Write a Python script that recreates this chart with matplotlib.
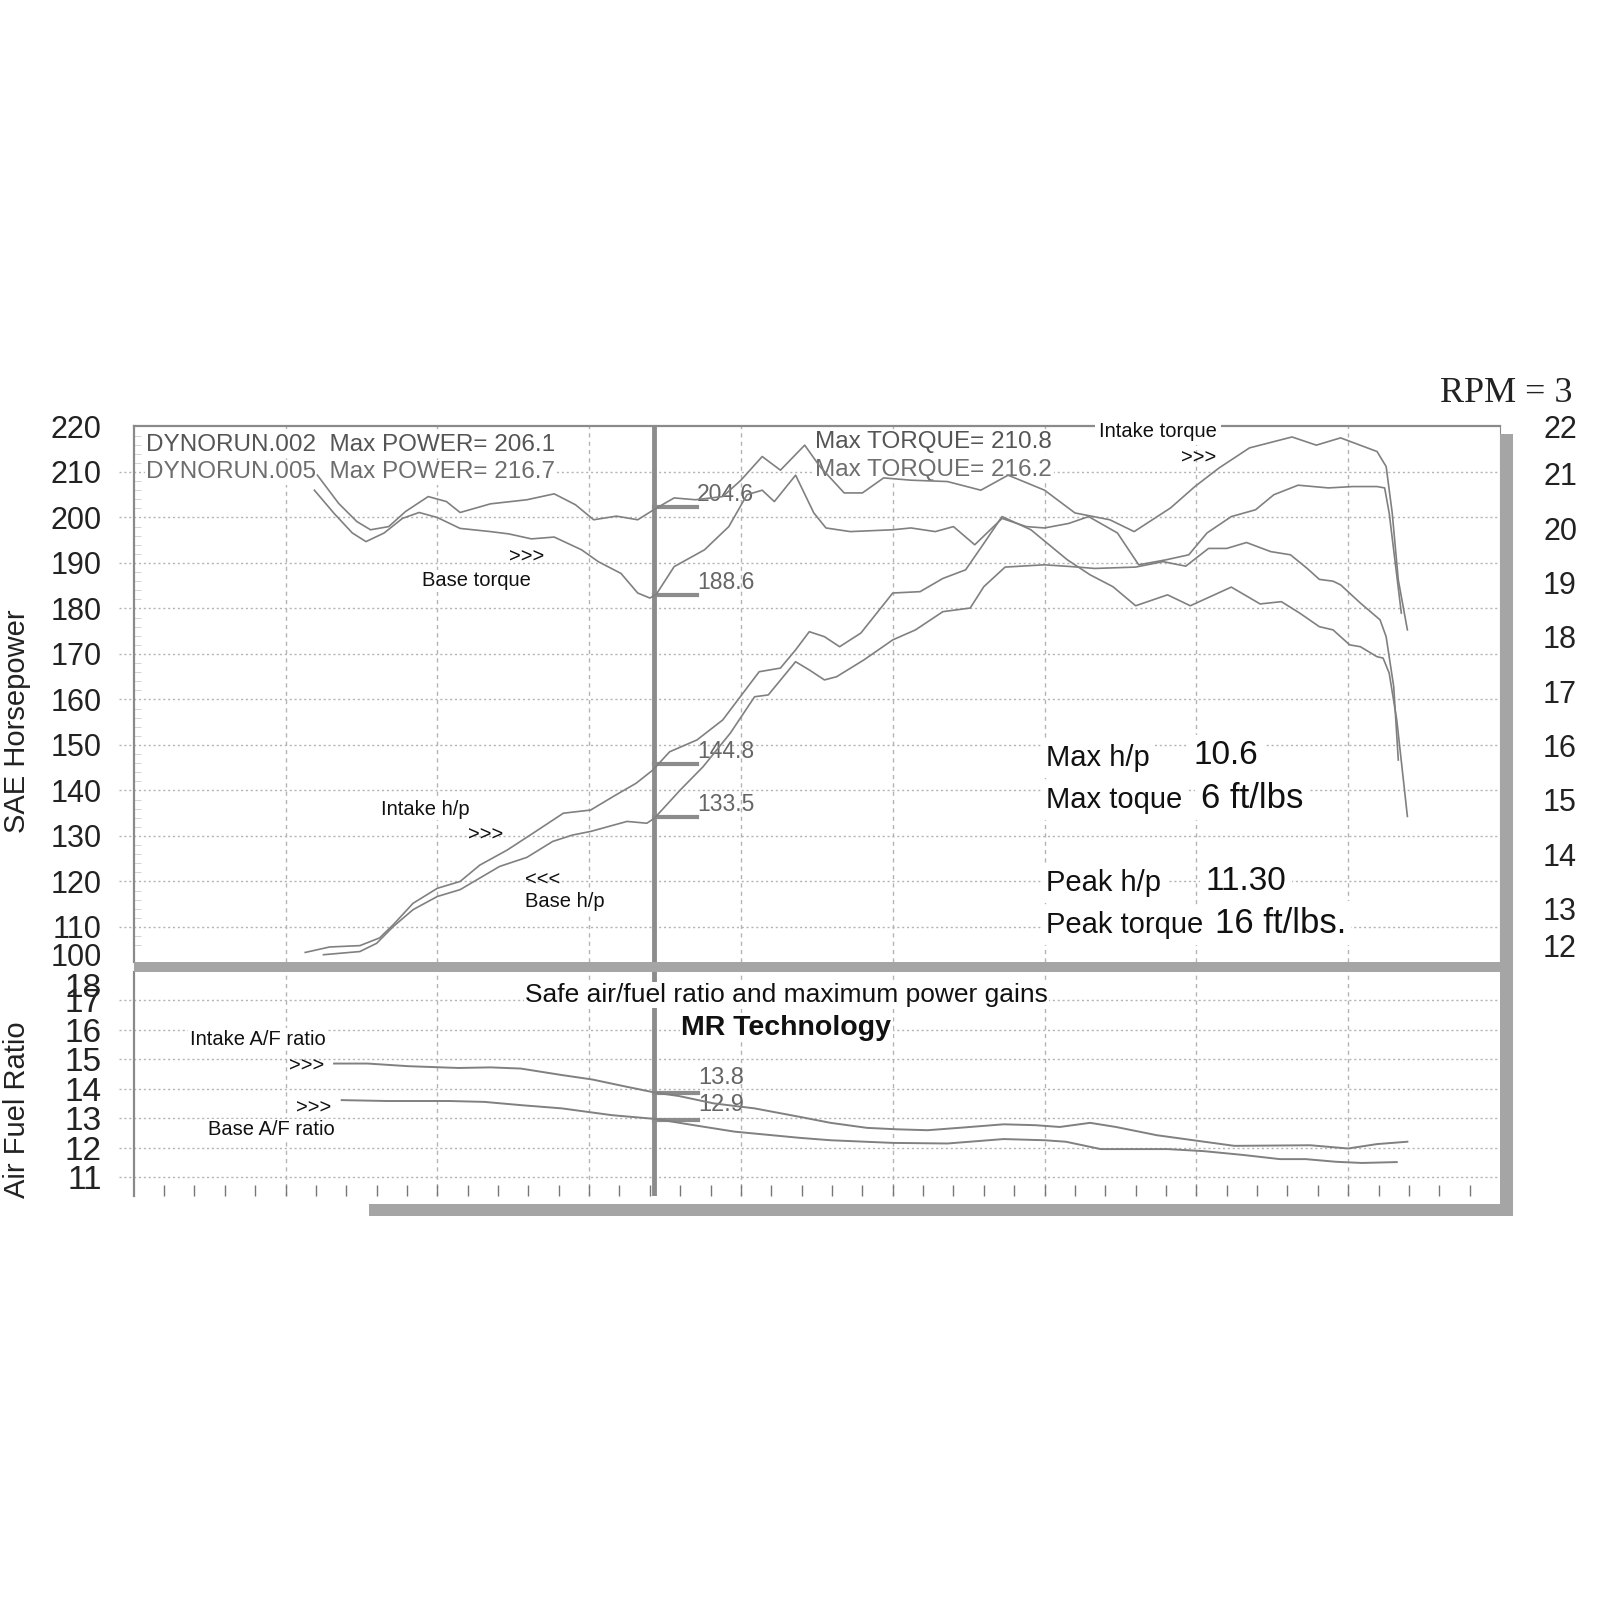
import matplotlib
matplotlib.use("Agg")
import matplotlib.pyplot as plt
from matplotlib.patches import Rectangle

plt.rcParams['font.family'] = ['Liberation Sans', 'DejaVu Sans']

# x positions in grid columns of the dyno sheet (9 columns across)
tq_in_x = [1.21, 1.35, 1.47, 1.56, 1.68, 1.79, 1.94, 2.06, 2.15, 2.35, 2.59, 2.77, 2.91, 3.03, 3.18, 3.32,
           3.44, 3.56, 3.70, 3.88, 4.00, 4.14, 4.26, 4.42, 4.52, 4.68, 4.80, 4.94, 5.12, 5.36, 5.58, 5.76,
           6.00, 6.20, 6.43, 6.59, 6.83, 6.99, 7.15, 7.35, 7.63, 7.79, 7.95, 8.19, 8.25, 8.29, 8.33, 8.39]
tq_in_y = [209.3, 203.1, 199.1, 197.3, 198.0, 201.3, 204.6, 203.5, 201.1, 203.0, 203.9, 205.2, 202.8, 199.5,
           200.3, 199.5, 202.0, 204.3, 203.9, 204.6, 208.2, 213.4, 210.4, 215.9, 211.2, 205.4, 205.4, 208.7,
           208.2, 207.9, 206.0, 209.3, 206.0, 201.0, 199.5, 196.9, 202.1, 206.8, 210.9, 215.3, 217.7, 215.9,
           217.5, 214.5, 211.2, 201.0, 186.3, 175.3]

tq_base_x = [1.19, 1.32, 1.44, 1.53, 1.65, 1.77, 1.88, 2.00, 2.15, 2.35, 2.47, 2.62, 2.77, 2.95, 3.06, 3.21,
             3.32, 3.40, 3.44, 3.56, 3.76, 3.92, 4.04, 4.14, 4.22, 4.36, 4.48, 4.56, 4.72, 5.00, 5.12, 5.28,
             5.40, 5.54, 5.72, 5.88, 6.00, 6.16, 6.29, 6.48, 6.62, 6.80, 6.95, 7.07, 7.23, 7.39, 7.51, 7.67,
             7.87, 8.03, 8.19, 8.24, 8.27, 8.31, 8.35]
tq_base_y = [206.0, 200.9, 196.6, 194.7, 196.6, 199.8, 201.1, 200.0, 197.6, 196.9, 196.4, 195.3, 195.7, 192.9,
             190.3, 187.7, 183.4, 182.3, 183.0, 189.2, 192.9, 198.0, 205.0, 206.0, 203.5, 209.3, 201.0, 197.7,
             196.9, 197.3, 197.7, 196.9, 198.0, 194.0, 199.8, 198.0, 197.7, 198.7, 200.2, 196.6, 189.6, 190.7,
             191.8, 196.6, 200.2, 201.7, 205.0, 207.1, 206.5, 206.8, 206.8, 206.5, 201.0, 190.0, 179.0]

hp_in_x = [1.13, 1.29, 1.49, 1.62, 1.71, 1.84, 2.00, 2.15, 2.28, 2.46, 2.63, 2.83, 3.01, 3.16, 3.31, 3.42,
           3.53, 3.71, 3.88, 4.12, 4.26, 4.36, 4.45, 4.55, 4.65, 4.79, 5.00, 5.18, 5.33, 5.48, 5.60, 5.72,
           5.91, 6.15, 6.30, 6.45, 6.60, 6.81, 6.96, 7.23, 7.42, 7.56, 7.68, 7.81, 7.90, 8.01, 8.08, 8.19,
           8.23, 8.27, 8.32, 8.39]
hp_in_y = [104.4, 105.6, 105.9, 107.6, 110.5, 115.2, 118.5, 120.0, 123.6, 126.9, 130.6, 135.0, 135.7, 138.7,
           141.6, 144.5, 148.5, 151.1, 155.5, 166.1, 166.9, 170.9, 174.9, 173.8, 171.6, 174.6, 183.4, 183.7,
           186.6, 188.5, 194.3, 200.2, 197.3, 190.7, 187.4, 184.8, 180.6, 183.0, 180.6, 184.7, 181.0, 181.5,
           179.0, 176.0, 175.3, 172.0, 171.6, 169.4, 169.1, 165.8, 155.5, 134.3]

hp_base_x = [1.25, 1.49, 1.60, 1.71, 1.84, 2.00, 2.15, 2.41, 2.59, 2.76, 2.89, 3.01, 3.25, 3.38, 3.43, 3.60,
             3.75, 3.93, 4.09, 4.18, 4.36, 4.45, 4.55, 4.63, 4.81, 5.00, 5.15, 5.33, 5.51, 5.60, 5.74, 6.00,
             6.18, 6.33, 6.60, 6.78, 6.93, 7.08, 7.20, 7.33, 7.49, 7.62, 7.73, 7.81, 7.90, 7.95, 8.08, 8.21,
             8.25, 8.30, 8.33]
hp_base_y = [103.9, 104.6, 106.4, 110.1, 113.8, 116.7, 118.2, 123.3, 125.3, 128.8, 130.2, 131.0, 133.2, 132.8,
             133.9, 140.1, 145.2, 152.6, 160.6, 161.0, 168.3, 166.5, 164.3, 165.0, 168.7, 173.1, 175.3, 179.3,
             180.1, 184.8, 189.1, 189.6, 189.2, 188.8, 189.1, 190.3, 189.3, 193.2, 193.2, 194.5, 192.5, 191.8,
             188.8, 186.4, 186.0, 185.2, 181.2, 177.5, 173.8, 162.8, 146.7]

af_in_x = [1.32, 1.54, 1.81, 2.14, 2.35, 2.55, 2.82, 3.02, 3.25, 3.44, 3.59, 3.82, 4.09, 4.39, 4.59, 4.83,
           5.03, 5.23, 5.46, 5.73, 5.94, 6.10, 6.30, 6.47, 6.74, 6.98, 7.25, 7.75, 8.00, 8.19, 8.39]
af_in_y = [14.85, 14.85, 14.76, 14.70, 14.72, 14.68, 14.46, 14.31, 14.06, 13.86, 13.75, 13.50, 13.33, 13.04,
           12.84, 12.67, 12.62, 12.59, 12.68, 12.79, 12.76, 12.70, 12.84, 12.70, 12.42, 12.25, 12.06, 12.08,
           11.97, 12.12, 12.20]

af_base_x = [1.37, 1.67, 2.08, 2.31, 2.55, 2.82, 3.15, 3.44, 3.69, 3.96, 4.39, 4.59, 5.00, 5.36, 5.73, 6.00,
             6.14, 6.37, 6.81, 7.05, 7.31, 7.55, 7.72, 7.92, 8.09, 8.32]
af_base_y = [13.61, 13.58, 13.58, 13.55, 13.44, 13.33, 13.10, 12.97, 12.76, 12.54, 12.33, 12.25, 12.16, 12.14,
             12.29, 12.25, 12.20, 11.95, 11.95, 11.88, 11.75, 11.61, 11.61, 11.52, 11.48, 11.51]

cursor_x = 3.43
hp_marks = [202.3, 183.0, 145.8, 134.1]
hp_mark_labels = ['204.6', '188.6', '144.8', '133.5']
af_marks = [13.85, 12.95]
af_mark_labels = ['13.8', '12.9']

hp_ticks = [104, 110, 120, 130, 140, 150, 160, 170, 180, 190, 200, 210, 220]
hp_tick_labels = ['100', '110', '120', '130', '140', '150', '160', '170', '180', '190', '200', '210', '220']
hp_grid = [110, 120, 130, 140, 150, 160, 170, 180, 190, 200, 210]
tq_ticks = [12.32, 13, 14, 15, 16, 17, 18, 19, 20, 21, 21.87]
tq_tick_labels = ['12', '13', '14', '15', '16', '17', '18', '19', '20', '21', '22']
af_ticks = [11, 12, 13, 14, 15, 16, 17, 17.5]
af_tick_labels = ['11', '12', '13', '14', '15', '16', '17', '18']
af_grid = [11, 12, 13, 14, 15, 16, 17]

LINE = '#808080'
GRID = '#b4b4b4'
BAR = '#a5a5a5'
W, H = 1600, 1600

fig = plt.figure(figsize=(16, 16), dpi=100)
fig.patch.set_facecolor('white')

ax = fig.add_axes([133.7 / W, 1 - 962 / H, (1500 - 133.7) / W, (962 - 426.5) / H])
ax.set_xlim(0, 9)
ax.set_ylim(102.3, 220)
ax.set_yticks(hp_ticks)
ax.set_yticklabels(hp_tick_labels, fontsize=22, color='#222222')
ax.set_xticks([])
ax.tick_params(axis='y', length=0, pad=23)
for s in ['left', 'top']:
    ax.spines[s].set_color('#8a8a8a')
    ax.spines[s].set_linewidth(1.6)
ax.spines['right'].set_color('#8a8a8a')
ax.spines['bottom'].set_visible(False)
ax.hlines(hp_grid, -0.1, 9, colors=GRID, linestyles=(0, (1.5, 2)), linewidth=1.0, clip_on=False, zorder=0.5)
ax.vlines(range(1, 9), 102.3, 220, colors=GRID, linestyles=(0, (3, 3)), linewidth=1.0, zorder=0.5)
ax.set_yticks(range(104, 220, 2), minor=True)
ax.tick_params(axis='y', which='minor', direction='in', length=5, color='#cccccc')

ax2 = ax.twinx()
ax2.set_ylim(12.02, 21.87)
ax2.set_yticks(tq_ticks)
ax2.set_yticklabels(tq_tick_labels, fontsize=22, color='#222222')
ax2.tick_params(axis='y', length=0, pad=31)
for s in ax2.spines.values():
    s.set_visible(False)

ax.axvline(cursor_x, color='#8c8c8c', lw=3.5, zorder=2)
for x, y in [(tq_in_x, tq_in_y), (tq_base_x, tq_base_y), (hp_in_x, hp_in_y), (hp_base_x, hp_base_y)]:
    ax.plot(x, y, color=LINE, lw=1.2, zorder=4)
for v in hp_marks:
    ax.plot([cursor_x, 3.71], [v, v], color='#8c8c8c', lw=3, zorder=3)
lab_y = [205.0, 185.7, 148.5, 137.0]
for v, lab in zip(lab_y, hp_mark_labels):
    ax.text(3.71, v, lab, fontsize=16.5, color='#666666', va='center', zorder=3.5)

box = dict(facecolor='white', edgecolor='none', pad=1)
ax.text(0.081, 215.96, 'DYNORUN.002  Max POWER= 206.1', fontsize=17.5, color='#555555', va='center', bbox=box, zorder=2.5)
ax.text(0.081, 209.9, 'DYNORUN.005  Max POWER= 216.7', fontsize=17.5, color='#6e6e6e', va='center', bbox=box, zorder=2.5)
ax.text(4.49, 216.6, 'Max TORQUE= 210.8', fontsize=17.5, color='#555555', va='center', bbox=box, zorder=2.5)
ax.text(4.49, 210.4, 'Max TORQUE= 216.2', fontsize=17.5, color='#6e6e6e', va='center', bbox=box, zorder=2.5)
ax.text(6.36, 219.0, 'Intake torque', fontsize=14.5, color='#111111', va='center',
        bbox=dict(facecolor='white', edgecolor='none', pad=3), zorder=3, clip_on=False)
ax.text(6.90, 213.0, '>>>', fontsize=14.5, color='#111111', va='center', zorder=2.5)
ax.text(2.47, 191.3, '>>>', fontsize=14.5, color='#111111', va='center', zorder=2.5)
ax.text(1.90, 186.1, 'Base torque', fontsize=14.5, color='#111111', va='center', bbox=box, zorder=2.5)
ax.text(1.63, 135.9, 'Intake h/p', fontsize=14.5, color='#111111', va='center', bbox=box, zorder=2.5)
ax.text(2.20, 130.1, '>>>', fontsize=14.5, color='#111111', va='center', zorder=2.5)
ax.text(2.58, 120.4, '<<<', fontsize=14.5, color='#111111', va='center', zorder=2.5)
ax.text(2.58, 115.5, 'Base h/p', fontsize=14.5, color='#111111', va='center', bbox=box, zorder=2.5)

big = dict(facecolor='white', edgecolor='none', pad=4)
ax.text(6.01, 147.1, 'Max h/p', fontsize=21, color='#111111', va='center', bbox=big, zorder=2.5)
ax.text(6.98, 147.6, '10.6', fontsize=24, color='#111111', va='center', bbox=big, zorder=2.5)
ax.text(6.01, 137.9, 'Max toque', fontsize=21, color='#111111', va='center', bbox=big, zorder=2.5)
ax.text(7.03, 138.3, '6 ft/lbs', fontsize=25, color='#111111', va='center', bbox=big, zorder=2.5)
ax.text(6.01, 119.6, 'Peak h/p', fontsize=21, color='#111111', va='center', bbox=big, zorder=2.5)
ax.text(7.06, 120.0, '11.30', fontsize=24, color='#111111', va='center', bbox=big, zorder=2.5)
ax.text(6.01, 110.4, 'Peak torque', fontsize=21, color='#111111', va='center', bbox=big, zorder=2.5)
ax.text(7.12, 110.8, '16 ft/lbs.', fontsize=25, color='#111111', va='center', bbox=big, zorder=2.5)

# air / fuel panel
bx = fig.add_axes([133.7 / W, 1 - 1196 / H, (1500 - 133.7) / W, (1196 - 971.5) / H])
bx.set_xlim(0, 9)
bx.set_ylim(10.36, 17.97)
bx.set_yticks(af_ticks)
bx.set_yticklabels(af_tick_labels, fontsize=24, color='#222222')
bx.tick_params(axis='y', length=0, pad=23)
bx.set_xticks([i * 0.2 for i in range(1, 45)])
bx.set_xticklabels([])
bx.tick_params(axis='x', direction='in', length=8, color='#777777', width=1)
for s in ['top', 'right', 'bottom']:
    bx.spines[s].set_visible(False)
bx.spines['left'].set_color('#8a8a8a')
bx.spines['left'].set_linewidth(1.6)
bx.hlines(af_grid, -0.1, 9, colors=GRID, linestyles=(0, (1.5, 2)), linewidth=1.0, clip_on=False, zorder=0.5)
bx.vlines(range(1, 9), 10.36, 17.97, colors=GRID, linestyles=(0, (3, 3)), linewidth=1.0, zorder=0.5)
bx.axvline(cursor_x, color='#8c8c8c', lw=3.5, zorder=2)
bx.plot(af_in_x, af_in_y, color=LINE, lw=1.4, zorder=4)
bx.plot(af_base_x, af_base_y, color=LINE, lw=1.4, zorder=4)
for v in af_marks:
    bx.plot([cursor_x, 3.72], [v, v], color='#8c8c8c', lw=3, zorder=3)
for v, lab in zip([14.37, 13.44], af_mark_labels):
    bx.text(3.72, v, lab, fontsize=17, color='#666666', va='center', zorder=3.5)

bx.text(4.30, 17.17, 'Safe air/fuel ratio and maximum power gains', fontsize=19, color='#111111',
        ha='center', va='center', bbox=box, zorder=2.5)
bx.text(4.30, 16.07, 'MR Technology', fontsize=20.5, fontweight='bold', color='#111111',
        ha='center', va='center', bbox=box, zorder=2.5)
bx.text(0.37, 15.68, 'Intake A/F ratio', fontsize=14.5, color='#111111', va='center', bbox=box, zorder=2.5)
bx.text(1.02, 14.75, '>>>', fontsize=14.5, color='#111111', va='center', zorder=2.5)
bx.text(1.07, 13.33, '>>>', fontsize=14.5, color='#111111', va='center', zorder=2.5)
bx.text(0.49, 12.61, 'Base A/F ratio', fontsize=14.5, color='#111111', va='center', bbox=box, zorder=2.5)

# heavy printed frame bars
for x0, y0, x1, y1 in [(133.7, 962, 1500, 971.5), (1500, 433.7, 1513, 1216), (369.4, 1204, 1513, 1216)]:
    fig.add_artist(Rectangle((x0 / W, 1 - y1 / H), (x1 - x0) / W, (y1 - y0) / H,
                             transform=fig.transFigure, facecolor=BAR, edgecolor='none'))

fig.text(17.3 / W, 1 - 721.4 / H, 'SAE Horsepower', rotation=90, fontsize=21, color='#222222',
         ha='center', va='center')
fig.text(17.3 / W, 1 - 1110 / H, 'Air Fuel Ratio', rotation=90, fontsize=21, color='#222222',
         ha='center', va='center')
fig.text(1440 / W, 1 - 393 / H, 'RPM = 3', fontsize=26, family='Liberation Serif', color='#222222',
         va='center')

fig.savefig('out.png', dpi=100, facecolor='white')
